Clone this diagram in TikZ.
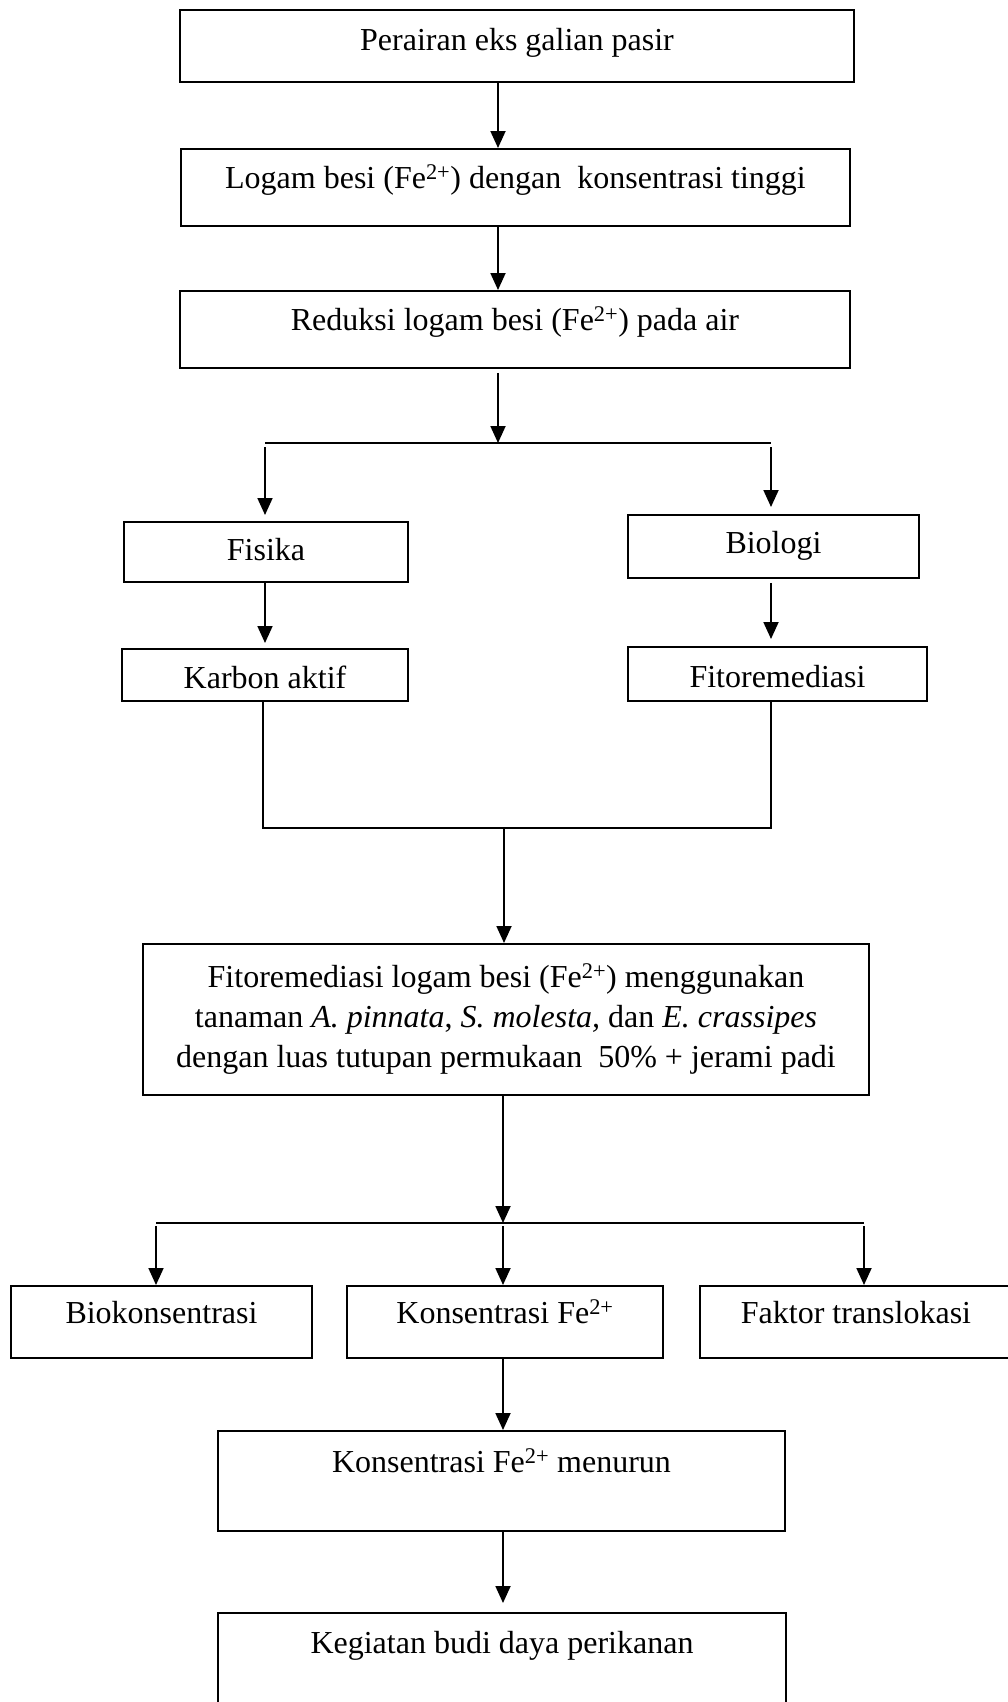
\documentclass[tikz,border=0pt]{standalone}
\usepackage{fontspec}
\setmainfont{Liberation Serif}
\usetikzlibrary{arrows.meta}

\tikzstyle{box}=[draw, line width=1.8pt, anchor=north, inner xsep=0pt,
                 inner ysep=0pt, font=\fontsize{32}{40}\selectfont]

\begin{document}
\begin{tikzpicture}[x=1pt, y=-1pt, line width=1.8pt,
                    >={Triangle[length=17pt,width=15pt]}]
  \useasboundingbox (0,0) rectangle (1007,1702);

  \node[box, minimum width=674pt, text height=41pt, text depth=31pt] (perairan) at (517,9) {Perairan eks galian pasir};
  \node[box, minimum width=669pt, text height=40pt, text depth=37pt] (logam) at (515.5,148) {Logam besi (Fe\textsuperscript{2+}) dengan\ \ konsentrasi tinggi};
  \node[box, minimum width=670pt, text height=40pt, text depth=37pt] (reduksi) at (515,290) {Reduksi logam besi (Fe\textsuperscript{2+}) pada air};

  \node[box, minimum width=284pt, text height=39pt, text depth=21pt] (fisika) at (266,521) {Fisika};
  \node[box, minimum width=291pt, text height=39pt, text depth=24pt] (biologi) at (773.5,514) {Biologi};
  \node[box, minimum width=286pt, text height=40pt, text depth=12pt] (karbon) at (265,648) {Karbon aktif};
  \node[box, minimum width=299pt, text height=41pt, text depth=13pt] (fito) at (777.5,646) {Fitoremediasi};

  \node[box, minimum width=726pt, minimum height=151pt, align=center] (fitoair) at (506,943)
    {Fitoremediasi logam besi (Fe\textsuperscript{2+}) menggunakan\\
     tanaman \textit{A. pinnata}, \textit{S. molesta,} dan \textit{E. crassipes}\\
     dengan luas tutupan permukaan\ \ 50\% + jerami padi};

  \node[box, minimum width=301pt, text height=38pt, text depth=34pt] (biokons) at (161.5,1285) {Biokonsentrasi};
  \node[box, minimum width=316pt, text height=38pt, text depth=34pt] (konsfe) at (505,1285) {Konsentrasi Fe\textsuperscript{2+}};
  \node[box, minimum width=312pt, text height=38pt, text depth=34pt] (faktor) at (856,1285) {Faktor translokasi};
  \node[box, minimum width=567pt, text height=42pt, text depth=58pt] (menurun) at (501.5,1430) {Konsentrasi Fe\textsuperscript{2+} menurun};
  \node[box, minimum width=568pt, text height=41pt, text depth=62pt] (kegiatan) at (502,1612) {Kegiatan budi daya perikanan};

  \coordinate (spineA) at (498,443);
  \coordinate (splitL) at (265,443);
  \coordinate (splitR) at (771,443);
  \coordinate (mergeL) at (263,828);
  \coordinate (mergeM) at (504,828);
  \coordinate (mergeR) at (771,828);
  \coordinate (spineB) at (503,1223);
  \coordinate (lowL) at (156,1223);
  \coordinate (lowR) at (864,1223);

  \draw[->] (perairan.south -| spineA) -- (logam.north -| spineA);
  \draw[->] (logam.south -| spineA) -- (reduksi.north -| spineA);
  \draw[->, shorten <=4pt] (reduksi.south -| spineA) -- (spineA);
  \draw (splitL) -- (splitR);
  \draw[->, shorten <=4pt, shorten >=6pt] (splitL) -- (fisika.north -| splitL);
  \draw[->, shorten <=4pt, shorten >=7pt] (splitR) -- (biologi.north -| splitR);
  \draw[->, shorten >=5pt] (fisika.south -| splitL) -- (karbon.north -| splitL);
  \draw[->, shorten <=4pt, shorten >=7pt] (biologi.south -| splitR) -- (fito.north -| splitR);

  \draw (karbon.south -| mergeL) -- (mergeL) -- (mergeR) -- (fito.south -| mergeR);
  \draw[->] (mergeM) -- (fitoair.north -| mergeM);

  \draw[->] (fitoair.south -| spineB) -- (spineB);
  \draw (lowL) -- (lowR);
  \draw[->, shorten <=3pt] (lowL) -- (biokons.north -| lowL);
  \draw[->, shorten <=3pt] (spineB) -- (konsfe.north -| spineB);
  \draw[->, shorten <=3pt] (lowR) -- (faktor.north -| lowR);
  \draw[->] (konsfe.south -| spineB) -- (menurun.north -| spineB);
  \draw[->, shorten >=9pt] (menurun.south -| spineB) -- (kegiatan.north -| spineB);

\end{tikzpicture}
\end{document}
